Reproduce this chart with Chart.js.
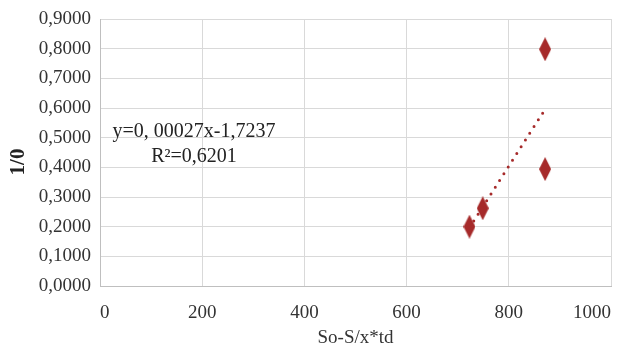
<!DOCTYPE html>
<html>
<head>
<meta charset="utf-8">
<script src="https://cdn.jsdelivr.net/npm/chart.js@4/dist/chart.umd.min.js"></script>
<style>
  html, body { margin: 0; padding: 0; background: #fff; }
  #wrap { width: 617px; height: 348px; }
</style>
</head>
<body>
<div id="wrap"><canvas id="chart"></canvas></div>
<script>
// valeurs
const xValues = [723, 749, 871, 871];
const yValues = [0.200, 0.262, 0.394, 0.798];
const xTicks = [0, 200, 400, 600, 800, 1000];
const yTicks = [0, 0.1, 0.2, 0.3, 0.4, 0.5, 0.6, 0.7, 0.8, 0.9];
const equationText = "y=0, 00027x-1,7237";
const r2Text = "R²=0,6201";
const xTitle = "So-S/x*td";
const yTitle = "1/0";

const red = "#a62a2a";
const serif = "'Liberation Serif', 'DejaVu Serif', serif";

// droite de tendance (moindres carrés)
const n = xValues.length;
const mx = xValues.reduce((a, b) => a + b, 0) / n;
const my = yValues.reduce((a, b) => a + b, 0) / n;
let sxy = 0, sxx = 0;
for (let i = 0; i < n; i++) {
  sxy += (xValues[i] - mx) * (yValues[i] - my);
  sxx += (xValues[i] - mx) * (xValues[i] - mx);
}
const slope = sxy / sxx;
const intercept = my - slope * mx;
const xMin = Math.min(...xValues);
const xMax = Math.max(...xValues);

// marqueur losange allongé
function diamond(w, h, color) {
  const c = document.createElement("canvas");
  c.width = w;
  c.height = h;
  const g = c.getContext("2d");
  g.fillStyle = color;
  g.beginPath();
  g.moveTo(w / 2, 0);
  g.lineTo(w, h / 2);
  g.lineTo(w / 2, h);
  g.lineTo(0, h / 2);
  g.closePath();
  g.fill();
  return c;
}
const marker = diamond(12, 24, red);

// équation, R² et titre vertical
const annotation = {
  id: "annotation",
  afterDatasetsDraw(chart) {
    const ctx = chart.ctx;
    ctx.save();
    ctx.fillStyle = "#222";
    ctx.font = "20px " + serif;
    ctx.textAlign = "center";
    ctx.textBaseline = "middle";
    ctx.fillText(equationText, 194, 132);
    ctx.fillText(r2Text, 194, 157);
    ctx.translate(19, 162);
    ctx.rotate(-Math.PI / 2);
    ctx.font = "bold 21px " + serif;
    ctx.fillText(yTitle, 0, 0);
    ctx.restore();
  }
};

new Chart(document.getElementById("chart"), {
  type: "scatter",
  data: {
    datasets: [
      {
        label: "points",
        data: xValues.map((x, i) => ({ x: x, y: yValues[i] })),
        pointStyle: marker,
        pointRadius: 12,
        order: 1
      },
      {
        label: "tendance",
        data: [
          { x: xMin, y: slope * xMin + intercept },
          { x: xMax, y: slope * xMax + intercept }
        ],
        showLine: true,
        borderColor: red,
        borderWidth: 3,
        borderDash: [0, 8],
        borderCapStyle: "round",
        pointRadius: 0,
        order: 2
      }
    ]
  },
  options: {
    responsive: true,
    maintainAspectRatio: false,
    animation: false,
    layout: { autoPadding: false, padding: { top: 19, right: 6, left: 0, bottom: 0 } },
    plugins: {
      legend: { display: false },
      tooltip: { enabled: false }
    },
    scales: {
      x: {
        type: "linear",
        min: 0,
        max: 1000,
        afterBuildTicks: (s) => { s.ticks = xTicks.map(v => ({ value: v })); },
        afterFit: (s) => { s.height = 62; s.paddingLeft = 0; s.paddingRight = 0; },
        grid: { color: "#d9d9d9", drawTicks: false },
        border: { color: "#bfbfbf" },
        ticks: {
          color: "#333",
          font: { family: serif, size: 19 },
          padding: 16,
          align: "inner",
          maxRotation: 0,
          callback: (v) => String(v)
        },
        title: {
          display: true,
          text: xTitle,
          color: "#333",
          font: { family: serif, size: 19, lineHeight: 1.0 },
          padding: { top: 0, bottom: 0 }
        }
      },
      y: {
        min: 0,
        max: 0.9,
        afterBuildTicks: (s) => { s.ticks = yTicks.map(v => ({ value: v })); },
        afterFit: (s) => { s.width = 100; s.paddingTop = 0; s.paddingBottom = 0; },
        grid: { color: "#d9d9d9", drawTicks: false },
        border: { color: "#bfbfbf" },
        ticks: {
          color: "#333",
          font: { family: serif, size: 19 },
          padding: 9,
          callback: (v) => v.toFixed(4).replace(".", ",")
        },
        title: { display: false }
      }
    }
  },
  plugins: [annotation]
});
</script>
</body>
</html>
